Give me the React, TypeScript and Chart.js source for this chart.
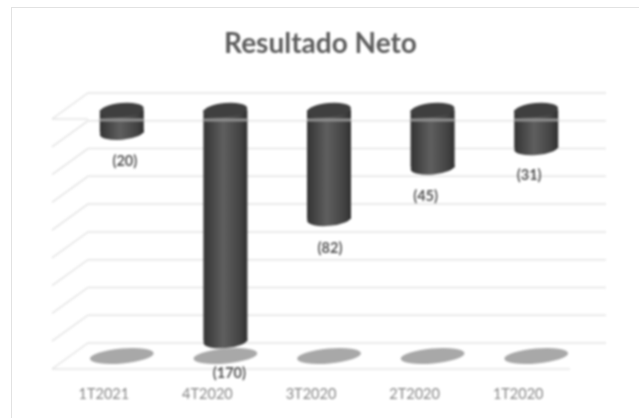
import React, { useEffect, useRef } from "react";
import { Chart, registerables } from "chart.js";

Chart.register(...registerables);

const categories = ["1T2021", "4T2020", "3T2020", "2T2020", "1T2020"];
const resultadoNeto = [-20, -170, -82, -45, -31];
const valueLabels = ["(20)", "(170)", "(82)", "(45)", "(31)"];
const chartTitle = "Resultado Neto";
const axisMin = -180;
const axisMax = 0;
const axisStep = 20;

// label nudges from the bar end, px
const labelNudgeX = [21, 22, 19, 11, 11];
const labelNudgeY = [15, 18, 15, 14.5, 13];

const GRID = "#e4e4e4";
const FONT = "Lato";
const DEPTH_X = 36;
const DEPTH_Y = 26;
const BAR_DX = 18;
const BAR_DY = -14;
const BAR_W = 44;
const CAP_RY = 7;
const TILT = (-5 * Math.PI) / 180;

const barGradient = (ctx: CanvasRenderingContext2D, cx: number) => {
  if (!Number.isFinite(cx)) return "#444444";
  const g = ctx.createLinearGradient(cx - BAR_W / 2, 0, cx + BAR_W / 2, 0);
  g.addColorStop(0, "#333333");
  g.addColorStop(0.45, "#5f5f5f");
  g.addColorStop(0.85, "#424242");
  g.addColorStop(1, "#2f2f2f");
  return g;
};

const scene = {
  id: "scene3d",
  afterLayout(chart: any) {
    // centre the title on the whole frame rather than on the padded box
    chart.titleBlock.left = 0;
    chart.titleBlock.right = 641;
  },
  beforeDatasetsDraw(chart: any) {
    const { ctx, chartArea: a, scales } = chart;
    const y = scales.y;
    ctx.save();
    ctx.strokeStyle = GRID;
    ctx.lineWidth = 1.5;
    y.ticks.forEach((t: any) => {
      const py = y.getPixelForValue(t.value);
      ctx.beginPath();
      ctx.moveTo(a.left, py);
      ctx.lineTo(a.left + DEPTH_X, py - DEPTH_Y);
      ctx.lineTo(a.right + DEPTH_X, py - DEPTH_Y);
      ctx.stroke();
    });
    const zero = y.getPixelForValue(axisMax);
    ctx.beginPath();
    ctx.moveTo(a.left, zero);
    ctx.lineTo(a.left + DEPTH_X, zero);
    ctx.stroke();
    const floor = y.getPixelForValue(axisMin);
    ctx.beginPath();
    ctx.moveTo(a.left, floor);
    ctx.lineTo(a.right, floor);
    ctx.stroke();
    // floor shadows
    ctx.fillStyle = "#a8a8a8";
    categories.forEach((_, i) => {
      const cx = scales.x.getPixelForValue(i) + BAR_DX;
      ctx.beginPath();
      ctx.ellipse(cx, floor - 13, 32, 7.5, (-5 * Math.PI) / 180, 0, Math.PI * 2);
      ctx.fill();
    });
    ctx.restore();
    ctx.save();
    ctx.translate(BAR_DX, BAR_DY);
  },
  afterDatasetsDraw(chart: any) {
    const { ctx, scales } = chart;
    const meta = chart.getDatasetMeta(0);
    // caps, still in the translated frame
    meta.data.forEach((bar: any) => {
      const cx = bar.x;
      ctx.fillStyle = barGradient(ctx, cx);
      ctx.beginPath();
      ctx.ellipse(cx, bar.y, BAR_W / 2, CAP_RY, TILT, 0, Math.PI * 2);
      ctx.fill();
      ctx.fillStyle = "#3f3f3f";
      ctx.beginPath();
      ctx.ellipse(cx, bar.base, BAR_W / 2, CAP_RY, TILT, 0, Math.PI * 2);
      ctx.fill();
    });
    ctx.restore();
    ctx.save();
    // the pale line that shows through the bars
    const zero = scales.y.getPixelForValue(axisMax);
    ctx.strokeStyle = "#8e8e8e";
    ctx.lineWidth = 3;
    meta.data.forEach((bar: any) => {
      ctx.beginPath();
      ctx.moveTo(bar.x + BAR_DX - BAR_W / 2, zero + 1);
      ctx.lineTo(bar.x + BAR_DX + BAR_W / 2, zero + 1);
      ctx.stroke();
    });
    // data labels
    ctx.fillStyle = "#555555";
    ctx.font = `bold 14.5px ${FONT}`;
    ctx.textAlign = "center";
    ctx.textBaseline = "middle";
    resultadoNeto.forEach((v, i) => {
      ctx.fillText(
        valueLabels[i],
        scales.x.getPixelForValue(i) + labelNudgeX[i],
        scales.y.getPixelForValue(v) + labelNudgeY[i]
      );
    });
    ctx.restore();
  },
};

export default function App() {
  const ref = useRef<HTMLCanvasElement>(null);
  useEffect(() => {
    const chart = new Chart(ref.current!, {
      type: "bar",
      data: {
        labels: categories,
        datasets: [
          {
            data: resultadoNeto,
            base: -3.6,
            clip: false,
            barPercentage: BAR_W / 103.6,
            categoryPercentage: 1,
            borderWidth: 0,
            backgroundColor: (c: any) => {
              const x = c.chart.scales.x;
              return barGradient(c.chart.ctx, x ? x.getPixelForValue(c.dataIndex) : NaN);
            },
          } as any,
        ],
      },
      options: {
        animation: false,
        responsive: false,
        layout: { padding: { left: 52, right: 69, top: 0, bottom: 0 } },
        plugins: {
          legend: { display: false },
          tooltip: { enabled: false },
          title: {
            display: true,
            text: chartTitle,
            color: "#5c5c5c",
            font: { family: FONT, size: 28, weight: "bold", lineHeight: 1.2 },
            padding: { top: 27, bottom: 58.4 },
          },
        },
        scales: {
          x: {
            grid: { display: false },
            border: { display: false },
            afterFit: (s: any) => {
              s.height = 49;
            },
            ticks: {
              color: "#858585",
              font: { family: FONT, size: 14.5 },
              padding: 9,
              maxRotation: 0,
            },
          },
          y: {
            display: false,
            min: axisMin,
            max: axisMax,
            ticks: { stepSize: axisStep },
          },
        },
      } as any,
      plugins: [scene],
    });
    return () => chart.destroy();
  }, []);
  return (
    <div style={{ position: "fixed", left: 0, top: 0, width: 639, height: 418, background: "#fff", overflow: "hidden" }}>
      <div
        style={{
          position: "absolute",
          left: 11,
          top: 7,
          width: 660,
          height: 440,
          border: "1.5px solid #e2e2e2",
        }}
      />
      <canvas
        ref={ref}
        width={639}
        height={418}
        style={{ position: "absolute", left: 0, top: 0, width: 639, height: 418, filter: "blur(0.9px)" }}
      />
    </div>
  );
}
